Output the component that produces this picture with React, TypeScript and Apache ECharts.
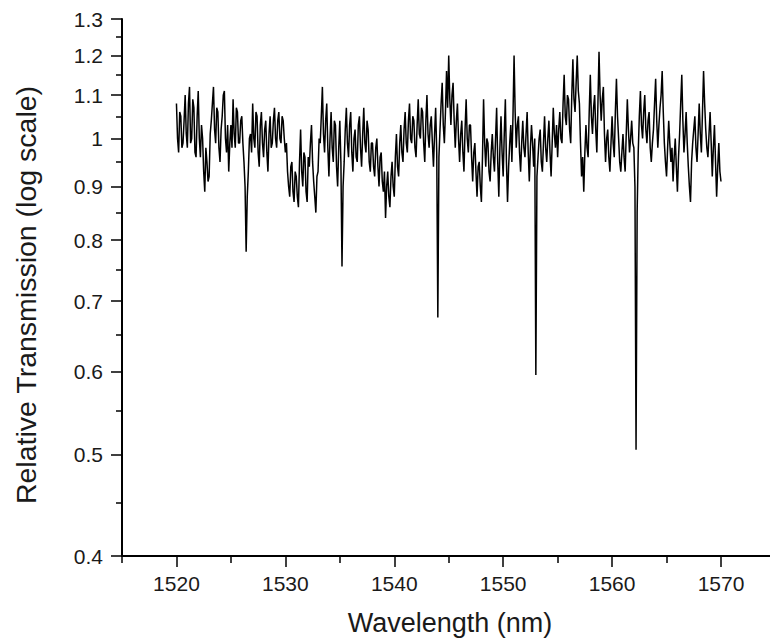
import { useEffect, useRef } from "react";
import * as echarts from "echarts";

// Sampling grid of the trace (nm)
const WAVELENGTH_START = 1520;
const WAVELENGTH_STEP = 0.1;

// Relative transmission, 10 samples per nm (1520.0 ... 1570.0)
const TRANSMISSION = [
  1.08, 1.00, 0.97, 1.06, 1.05, 0.98, 0.99, 1.04, 1.10, 1.01, // 1520
  0.98, 1.08, 1.12, 0.99, 1.00, 1.09, 1.07, 0.97, 0.96, 1.05, // 1521
  1.11, 1.00, 0.96, 1.03, 1.00, 0.93, 0.89, 0.98, 0.95, 0.91, // 1522
  0.92, 1.01, 1.04, 1.08, 1.12, 1.02, 0.99, 1.07, 1.06, 0.98, // 1523
  0.95, 1.02, 1.05, 1.10, 1.11, 1.00, 0.97, 1.03, 0.93, 0.99, // 1524
  1.03, 0.98, 1.09, 1.01, 0.98, 1.07, 1.06, 0.99, 0.99, 1.04, // 1525
  1.05, 0.99, 0.95, 0.90, 0.78, 0.88, 0.93, 1.00, 1.01, 0.97, // 1526
  1.08, 1.00, 0.98, 1.06, 1.05, 0.97, 0.94, 1.03, 1.06, 0.99, // 1527
  0.96, 1.02, 1.04, 0.97, 0.93, 1.01, 1.05, 0.98, 0.99, 1.04, // 1528
  1.07, 1.00, 0.98, 1.04, 1.06, 1.00, 0.99, 1.05, 1.04, 1.00, // 1529
  0.97, 0.99, 0.93, 0.90, 0.88, 0.94, 0.95, 0.89, 0.87, 0.93, // 1530
  0.92, 0.88, 0.86, 0.95, 1.02, 0.93, 0.90, 0.97, 0.96, 0.89, // 1531
  0.87, 0.96, 0.94, 0.99, 1.03, 0.95, 0.91, 0.88, 0.85, 0.92, // 1532
  0.93, 1.00, 0.99, 1.05, 1.12, 1.01, 0.97, 1.04, 1.08, 0.98, // 1533
  0.92, 1.00, 1.06, 0.98, 0.95, 1.04, 1.03, 0.94, 0.90, 0.98, // 1534
  1.04, 0.95, 0.755, 0.90, 0.95, 1.02, 1.07, 0.99, 0.96, 1.03, // 1535
  1.06, 0.97, 0.93, 1.00, 1.02, 0.96, 0.95, 1.03, 1.05, 0.98, // 1536
  0.94, 1.01, 1.07, 0.99, 0.97, 1.04, 1.02, 0.95, 0.93, 0.99, // 1537
  0.99, 0.94, 0.92, 0.98, 1.00, 0.94, 0.90, 0.96, 0.97, 0.91, // 1538
  0.89, 0.93, 0.84, 0.90, 0.93, 0.88, 0.86, 0.92, 0.95, 0.90, // 1539
  0.88, 0.96, 1.01, 0.94, 0.92, 0.99, 1.03, 0.97, 0.95, 1.02, // 1540
  1.06, 0.99, 0.97, 1.04, 1.08, 1.00, 0.99, 1.05, 1.04, 0.98, // 1541
  0.96, 1.03, 1.09, 1.01, 1.00, 1.07, 1.06, 0.99, 0.95, 1.04, // 1542
  1.10, 1.01, 0.98, 1.03, 1.05, 0.99, 0.94, 1.01, 1.07, 0.97, // 1543
  0.675, 0.96, 1.02, 1.08, 1.13, 1.03, 0.99, 1.06, 1.16, 1.07, // 1544
  1.20, 1.09, 1.03, 1.10, 1.13, 1.04, 0.98, 1.04, 1.08, 1.00, // 1545
  0.95, 1.01, 1.04, 0.97, 0.93, 1.02, 1.09, 1.00, 0.97, 1.03, // 1546
  1.03, 0.96, 0.91, 0.97, 0.99, 0.93, 0.88, 0.94, 0.95, 0.90, // 1547
  0.87, 0.96, 1.09, 0.99, 0.94, 1.00, 0.99, 0.93, 0.91, 0.97, // 1548
  1.01, 0.96, 0.93, 1.00, 1.07, 0.95, 0.88, 0.98, 1.05, 0.97, // 1549
  0.92, 1.01, 1.09, 0.95, 0.87, 0.94, 0.99, 1.03, 0.95, 1.05, // 1550
  1.20, 1.06, 0.98, 1.03, 1.05, 0.97, 0.93, 0.99, 1.04, 0.98, // 1551
  0.96, 1.01, 1.06, 0.97, 0.91, 0.98, 1.03, 0.99, 0.94, 1.00, // 1552
  0.595, 0.92, 0.96, 1.00, 1.02, 0.95, 0.93, 0.99, 1.05, 0.98, // 1553
  0.95, 1.00, 1.04, 0.97, 0.92, 0.99, 1.07, 1.01, 0.98, 1.03, // 1554
  0.96, 1.02, 1.06, 1.00, 0.99, 1.08, 1.15, 1.05, 1.03, 1.10, // 1555
  1.09, 1.02, 0.99, 1.10, 1.19, 1.09, 1.06, 1.13, 1.20, 1.11, // 1556
  1.08, 0.99, 0.92, 0.96, 0.89, 0.97, 1.03, 0.98, 0.96, 1.06, // 1557
  1.15, 1.05, 1.01, 1.07, 1.10, 1.02, 0.97, 1.08, 1.21, 1.10, // 1558
  1.04, 1.09, 1.12, 1.01, 0.95, 1.00, 1.02, 0.96, 0.93, 0.99, // 1559
  1.05, 0.99, 0.96, 1.06, 1.14, 1.05, 1.00, 0.95, 0.93, 0.97, // 1560
  1.01, 0.96, 0.93, 1.01, 1.09, 1.02, 0.97, 1.00, 1.04, 0.99, // 1561
  0.98, 0.90, 0.505, 0.85, 0.97, 1.05, 1.11, 1.03, 1.00, 1.06, // 1562
  1.10, 1.02, 0.99, 1.04, 1.06, 0.98, 0.95, 0.99, 1.02, 1.08, // 1563
  1.14, 1.04, 0.98, 1.03, 1.07, 1.10, 1.16, 1.06, 0.99, 0.95, // 1564
  0.92, 0.98, 1.04, 0.99, 0.95, 0.98, 0.91, 0.96, 1.00, 0.94, // 1565
  0.89, 0.96, 1.01, 1.08, 1.15, 1.04, 0.97, 1.01, 1.06, 0.99, // 1566
  0.94, 0.90, 0.87, 0.95, 0.99, 1.02, 1.05, 0.98, 0.95, 1.01, // 1567
  1.08, 1.01, 0.97, 1.06, 1.16, 1.08, 1.02, 0.98, 0.96, 1.01, // 1568
  1.06, 0.99, 0.92, 0.98, 1.03, 0.95, 0.88, 0.94, 0.99, 0.93, // 1569
  0.91, // 1570
];

const X_MIN = 1515;
const X_MAX = 1574.5;
const X_LABELS = [1520, 1530, 1540, 1550, 1560, 1570];
const X_MINOR = [1515, 1525, 1535, 1545, 1555, 1565];

const Y_MIN = 0.4;
const Y_MAX = 1.3;
const Y_LABELS = [0.4, 0.5, 0.6, 0.7, 0.8, 0.9, 1, 1.1, 1.2, 1.3];
const Y_MINOR = [0.45, 0.55, 0.65, 0.75, 0.85, 0.95, 1.05, 1.15, 1.25];

const X_TITLE = "Wavelength (nm)";
const Y_TITLE = "Relative Transmission (log scale)";

export default function App() {
  const ref = useRef<HTMLDivElement>(null);

  useEffect(() => {
    if (!ref.current) return;
    const chart = echarts.init(ref.current, null, { renderer: "svg" });
    const lg = (v: number) => Math.log10(v);
    const data = TRANSMISSION.map((v, i) => [
      +(WAVELENGTH_START + i * WAVELENGTH_STEP).toFixed(1),
      lg(v),
    ]);
    const fontFamily = "Liberation Sans, Arial, sans-serif";
    const font = { fontFamily, color: "#1a1a1a" };
    const tickStyle = { color: "#000", width: 1.5 };
    const yFmt = (v: number) => String(Number(Math.pow(10, v).toFixed(2)));

    chart.setOption({
      animation: false,
      grid: { left: 122, right: 0, top: 19, bottom: 84 },
      graphic: [
        {
          type: "text",
          x: 450,
          y: 623,
          style: {
            text: X_TITLE,
            fontFamily,
            fontSize: 27,
            fill: "#1a1a1a",
            textAlign: "center",
            textVerticalAlign: "middle",
          },
        },
        {
          type: "text",
          x: 26,
          y: 295,
          rotation: Math.PI / 2,
          style: {
            text: Y_TITLE,
            fontFamily,
            fontSize: 28.5,
            fill: "#1a1a1a",
            textAlign: "center",
            textVerticalAlign: "middle",
          },
        },
      ],
      xAxis: [
        {
          type: "value",
          min: X_MIN,
          max: X_MAX,
          position: "bottom",
          axisLine: { show: true, onZero: false, lineStyle: { color: "#000", width: 2 } },
          axisTick: { show: true, customValues: X_LABELS, length: 11, lineStyle: tickStyle },
          axisLabel: {
            show: true,
            customValues: X_LABELS,
            margin: 17,
            fontSize: 21,
            ...font,
            formatter: (v: number) => String(v),
          },
          splitLine: { show: false },
        },
        {
          type: "value",
          min: X_MIN,
          max: X_MAX,
          position: "bottom",
          axisLine: { show: false, onZero: false },
          axisTick: { show: true, customValues: X_MINOR, length: 7, lineStyle: tickStyle },
          axisLabel: { show: false },
          splitLine: { show: false },
        },
      ],
      yAxis: [
        {
          type: "value",
          min: lg(Y_MIN),
          max: lg(Y_MAX),
          position: "left",
          axisLine: { show: true, onZero: false, lineStyle: { color: "#000", width: 2 } },
          axisTick: { show: true, customValues: Y_LABELS.map(lg), length: 11, lineStyle: tickStyle },
          axisLabel: {
            show: true,
            customValues: Y_LABELS.map(lg),
            margin: 19,
            fontSize: 21,
            ...font,
            formatter: (v: number) => yFmt(v),
          },
          splitLine: { show: false },
        },
        {
          type: "value",
          min: lg(Y_MIN),
          max: lg(Y_MAX),
          position: "left",
          axisLine: { show: false, onZero: false },
          axisTick: { show: true, customValues: Y_MINOR.map(lg), length: 6, lineStyle: tickStyle },
          axisLabel: { show: false },
          splitLine: { show: false },
        },
      ],
      series: [
        {
          type: "line",
          xAxisIndex: 0,
          yAxisIndex: 0,
          data,
          showSymbol: false,
          symbol: "none",
          lineStyle: { color: "#000", width: 1.5 },
        },
      ],
    });
    return () => chart.dispose();
  }, []);

  return (
    <div
      ref={ref}
      style={{ position: "absolute", left: 0, top: 0, width: 770, height: 640 }}
    />
  );
}
